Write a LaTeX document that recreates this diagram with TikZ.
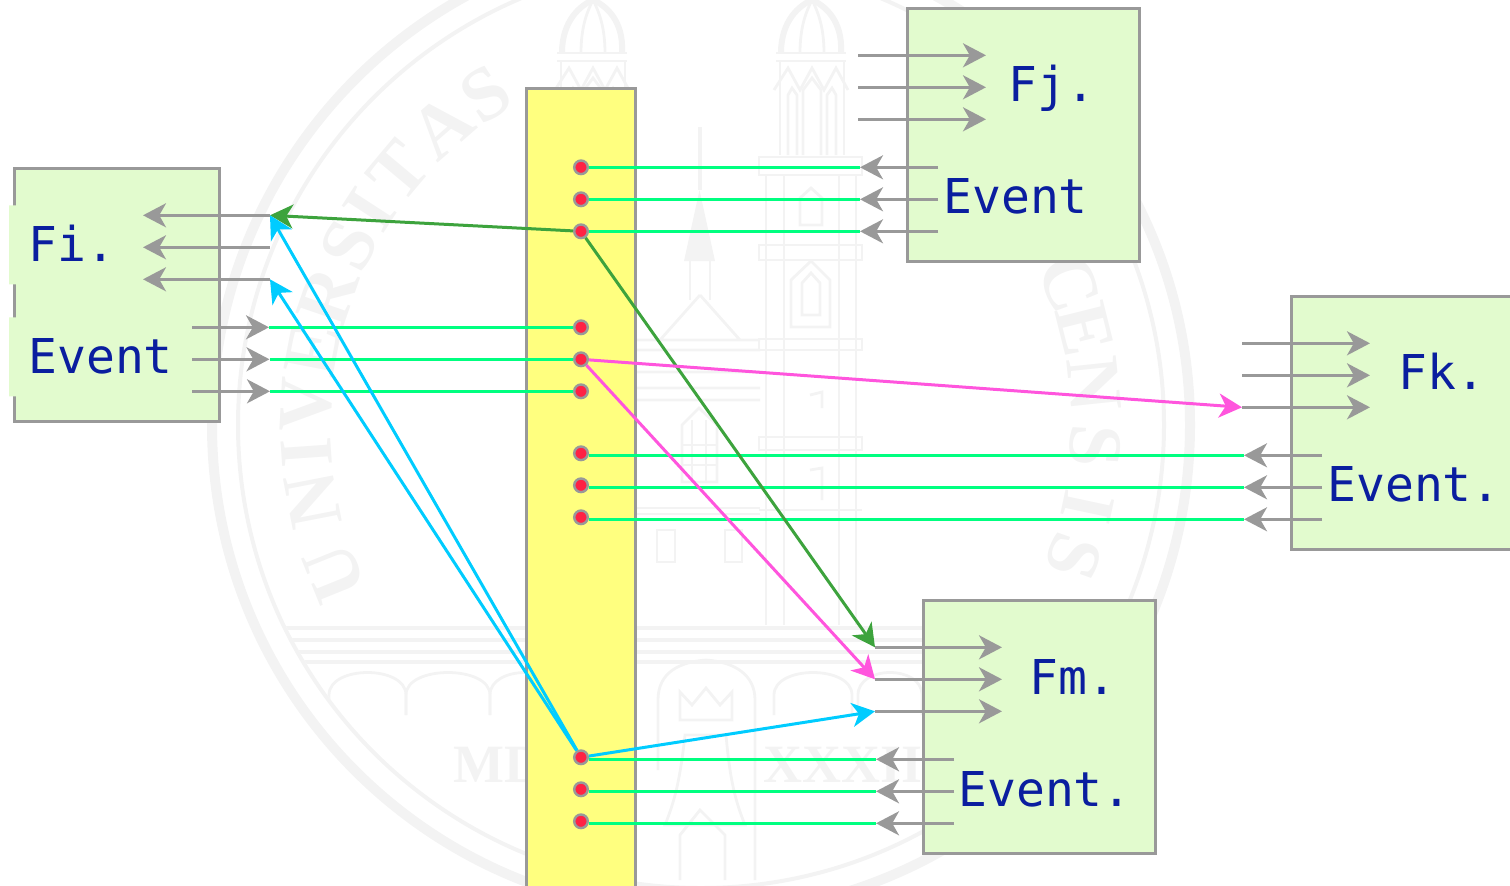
\documentclass[tikz,border=0pt]{standalone}
\usepackage{fontspec}
\usetikzlibrary{arrows.meta,calc}
\newfontfamily\monofam{DejaVu Sans Mono}
\newfontfamily\serifam{Liberation Serif}
\definecolor{wm}{HTML}{F3F3F3}
\definecolor{boxfill}{HTML}{E2FBCE}
\definecolor{barfill}{HTML}{FFFF7F}
\definecolor{edgegray}{HTML}{999999}
\definecolor{dotred}{HTML}{FF2244}
\definecolor{linkgreen}{HTML}{00FF80}
\definecolor{linkblue}{HTML}{00CCFF}
\definecolor{linkpink}{HTML}{FF55DD}
\definecolor{linkdark}{HTML}{3DA33D}
\definecolor{labelblue}{HTML}{0A1E9F}
\tikzset{
  x=0.5pt,y=-0.5pt,
  tip/.style={-{Stealth[length=11.5pt,width=12pt,inset=3.4pt]}},
  grayarrow/.style={tip,draw=edgegray,line width=1.5pt},
  greenlink/.style={draw=linkgreen,line width=1.6pt},
  colorlink/.style={tip,line width=1.5pt},
  unitbox/.style={draw=edgegray,fill=boxfill,line width=1.5pt},
  barbox/.style={draw=edgegray,fill=barfill,line width=1.5pt},
  dotnode/.style={circle,draw=edgegray,fill=dotred,line width=1.2pt,minimum size=6.8pt,inner sep=0pt},
  lab/.style={anchor=base west,inner sep=0pt,text=labelblue,font=\monofam\fontsize{24}{28}\selectfont},
  wmletter/.style={inner sep=0pt,text=wm,font=\serifam\bfseries\fontsize{38}{40}\selectfont},
  wmdate/.style={anchor=base west,inner sep=0pt,text=wm,font=\serifam\bfseries\fontsize{27}{30}\selectfont},
  wmline/.style={draw=wm,line width=1.4pt},
}
\newcommand{\frauentower}[1]{%
  \begin{scope}[shift={(#1,0)}]
    \draw[wmline,line width=3pt] (-31,53) .. controls (-31,20) and (-12,5) .. (0,0) .. controls (12,5) and (31,20) .. (29,53);
    \draw[wmline] (-12,53) .. controls (-12,25) and (-5,10) .. (0,0) .. controls (5,10) and (12,25) .. (12,53);
    \draw[wmline] (-36,53) -- (34,53) (-36,61) -- (34,61);
    \draw[wmline] (-32,61) -- (-32,155) (32,61) -- (32,155);
    \draw[wmline] (-38,90) -- (-24,68) -- (-12,90) -- (0,68) -- (12,90) -- (24,68) -- (36,90);
    \draw[wmline] (-24,155) -- (-24,95) -- (-20,88) -- (-15,95) -- (-15,155)
                  (-9,155) -- (-9,90) -- (0,78) -- (9,90) -- (9,155)
                  (15,155) -- (15,95) -- (20,88) -- (24,95) -- (24,155);
  \end{scope}}
\begin{document}
\begin{tikzpicture}
\useasboundingbox (0,0) rectangle (1510,885);
\clip (0,0) rectangle (1510,885);
% --- faint seal behind the diagram
\draw[draw=wm,line width=5pt] (701,425) circle[radius=489];
\draw[draw=wm,line width=2pt] (701,425) circle[radius=463];
\foreach \a/\l [count=\i] in {202/U,191/N,184/I,177/V,169/E,161/R,153/S,147/I,140/T,131/A,123/S,21/C,14/E,6/N,-3/S,-12/I,-19.5/S}
  \node[wmletter,rotate=\a-90] (seal\i) at ({701+395*cos(\a)},{425-395*sin(\a)}) {\l};
\node[wmdate] (sealyearl) at (453,782) {MD};
\node[wmdate] (sealyearr) at (763,782) {XXXII};
\frauentower{812}
\frauentower{593}
\draw[wmline] (759,157) rectangle (862,175) (759,245) rectangle (862,260) (759,339) rectangle (862,350) (759,437) rectangle (862,450) (759,510) -- (862,510);
\draw[wmline] (766,175) -- (766,625) (784,175) -- (784,625) (839,175) -- (839,625) (856,175) -- (856,625);
\draw[wmline] (791,327) -- (791,280) -- (811,261) -- (830,280) -- (830,327) -- cycle (802,315) -- (802,283) -- (811,273) -- (820,283) -- (820,315) -- cycle;
\draw[wmline] (800,225) -- (800,198) -- (811,188) -- (822,198) -- (822,225) -- cycle;
\draw[wmline] (810,395) -- (822,392) -- (822,408) (810,470) -- (822,468) -- (822,500);
% small church
\draw[draw=wm,line width=2pt] (699.5,127) -- (699.5,190);
\fill[wm] (699.5,190) -- (715,261) -- (684,261) -- cycle;
\draw[wmline] (690,261) -- (690,300) (710,261) -- (710,300);
\draw[wmline] (700,295) -- (660,340) (700,295) -- (740,340) (636,340) -- (760,340) (636,350) -- (760,350) (636,372) -- (760,372) (636,388) -- (760,388) (636,400) -- (760,400);
\draw[wmline] (682,482) -- (682,425) -- (699,408) -- (717,425) -- (717,482) -- cycle;
\draw[wmline] (692,420) -- (692,482) (706,420) -- (706,482) (682,445) -- (717,445) (682,465) -- (717,465);
\draw[wmline] (636,508) -- (760,508) (636,514) -- (760,514);
\draw[wmline] (657,562) rectangle (675,530) (725,562) rectangle (742,530);
% bridge
\begin{scope}
  \clip (701,425) circle[radius=461];
  \draw[wm,line width=1.6pt] (240,628) -- (1160,628) (240,640) -- (1160,640) (240,652) -- (1160,652) (240,662) -- (1160,662);
  \foreach \p/\q in {329/406,406/490,490/560,774/852,858/922}
    \draw[wmline] (\p,715) -- (\p,695) .. controls (\p,665) and (\q,665) .. (\q,695) -- (\q,715);
  \draw[wmline] (658,770) -- (658,700) .. controls (658,672) and (680,662) .. (706,660) .. controls (735,662) and (755,675) .. (755,700) -- (755,880);
  \draw[wmline] (680,720) -- (680,692) -- (692,705) -- (706,688) -- (720,705) -- (732,692) -- (732,720) -- cycle;
  \draw[wmline] (685,735) .. controls (680,780) and (675,800) .. (665,825) -- (745,825) .. controls (735,800) and (730,780) .. (726,735) -- cycle;
  \draw[wmline] (680,880) -- (680,835) -- (700,810) -- (725,835) -- (725,880);
\end{scope}
% --- central bar and unit boxes
\begin{scope}[shift={(0,-0.7)}]
\draw[barbox] (526.5,89) rectangle (635.5,900);
\draw[unitbox] (14,169) rectangle (219,422);
\draw[unitbox] (907,9) rectangle (1139,262);
\draw[unitbox] (1291,297) rectangle (1520,550);
\draw[unitbox] (923,601) rectangle (1155,854);
\fill[boxfill] (9,206) rectangle (130,285) (9,318) rectangle (190,397);
\node[lab] (fi) at (28,262.5) {Fi.};
\node[lab] (fiev) at (28,374.5) {Event};
\node[lab] (fj) at (1008,102.5) {Fj.};
\node[lab] (fjev) at (943,214) {Event};
\node[lab] (fk) at (1398,390) {Fk.};
\node[lab] (fkev) at (1327,502) {Event.};
\node[lab] (fm) at (1029,695) {Fm.};
\node[lab] (fmev) at (958,807) {Event.};
% --- port end points: tail (a) and head (b), row by row
\foreach \n/\xa/\xb/\ya in {
  fiA/270/143/216,fiB/270/143/248,fiC/270/143/280,
  fiD/192/269/328,fiE/192/269.5/360,fiF/192/270/392,
  fjA/858/986/56,fjB/858/986/88,fjC/858/986/120,
  fjD/938/860/168,fjE/938/860/200,fjF/938/860/232,
  fkA/1242/1370/344,fkB/1242/1370/376,fkC/1242/1370/408,
  fkD/1322/1244/456,fkE/1322/1244/488,fkF/1322/1244/520,
  fmA/875/1002/648,fmB/875/1002/680,fmC/875/1002/712,
  fmD/954/876/760,fmE/954/876/792,fmF/954/876/824}{
  \coordinate (\n a) at (\xa,\ya);
  \coordinate (\n b) at (\xb,\ya);
}
% --- bus points
\foreach \y [count=\i] in {168,200,232,328,360,392,454,486,518,758,790,822}
  \node[dotnode] (d\i) at (581,\y) {};
% --- green links to the grey arrows
\foreach \d/\t in {1/fjD,2/fjE,3/fjF,7/fkD,8/fkE,9/fkF,10/fmD,11/fmE,12/fmF}
  \draw[greenlink] (d\d.east |- \t b) -- (\t b);
\foreach \d/\t in {4/fiD,5/fiE,6/fiF}
  \draw[greenlink] (\t b) -- (d\d.west |- \t b);
% --- grey arrows
\foreach \t in {fiA,fiB,fiC,fiD,fiE,fiF,fjA,fjB,fjC,fjD,fjE,fjF,fkA,fkB,fkC,fkD,fkE,fkF,fmA,fmB,fmC,fmD,fmE,fmF}
  \draw[grayarrow] (\t a) -- (\t b);
% --- coloured messages
\draw[colorlink,draw=linkdark,fill=linkdark] (d3) -- (fiAa);
\draw[colorlink,draw=linkdark,fill=linkdark] (d3) -- (fmAa);
\draw[colorlink,draw=linkpink,fill=linkpink] (d5) -- (fkCa);
\draw[colorlink,draw=linkpink,fill=linkpink] (d5) -- (fmBa);
\draw[colorlink,draw=linkblue,fill=linkblue] (d10) -- (fiAa);
\draw[colorlink,draw=linkblue,fill=linkblue] (d10) -- (fiCa);
\draw[colorlink,draw=linkblue,fill=linkblue] (d10) -- (fmCa);
\end{scope}
\end{tikzpicture}
\end{document}
